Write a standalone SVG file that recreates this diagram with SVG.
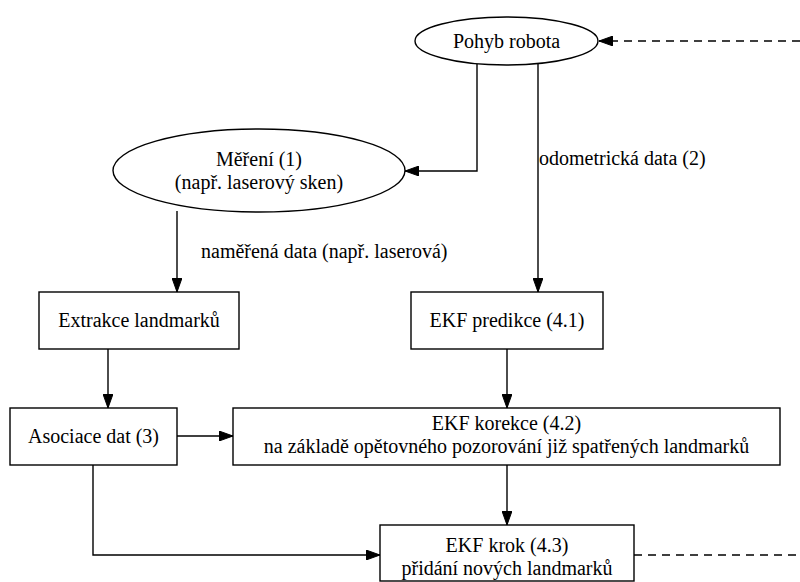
<svg xmlns="http://www.w3.org/2000/svg" width="800" height="582" viewBox="0 0 800 582">
<style>
text{font-size:20px;fill:#000}
.n{fill:#fff;stroke:#000;stroke-width:1.4}
.e{fill:none;stroke:#000;stroke-width:1.4}
.d{stroke-dasharray:8,6}
.c{text-anchor:middle}
</style>
<defs>
<marker id="ah" markerWidth="14" markerHeight="10" refX="14" refY="5" orient="auto" markerUnits="userSpaceOnUse">
<path d="M0,0 L14,5 L0,10 Z" fill="#000" stroke="#000" stroke-width="1"/>
</marker>
</defs>
<rect width="800" height="582" fill="#fff"/>
<g font-family="Liberation Serif, Tinos, DejaVu Serif, Noto Serif, Times New Roman, serif">
<g id="edges">
<path class="e d" d="M800,41 L599,41" marker-end="url(#ah)"/>
<path class="e" d="M477,64 L477,171 L405,171" marker-end="url(#ah)"/>
<path class="e" d="M538,64 L538,292" marker-end="url(#ah)"/>
<text x="539" y="165">odometrická data (2)</text>
<path class="e" d="M177,211 L177,292" marker-end="url(#ah)"/>
<text x="201" y="258">naměřená data (např. laserová)</text>
<path class="e" d="M108,349 L108,408" marker-end="url(#ah)"/>
<path class="e" d="M507,349 L507,408" marker-end="url(#ah)"/>
<path class="e" d="M177,436 L233,436" marker-end="url(#ah)"/>
<path class="e" d="M507,465 L507,525" marker-end="url(#ah)"/>
<path class="e" d="M93,465 L93,555 L380,555" marker-end="url(#ah)"/>
<path class="e d" d="M634,555 L800,555"/>
</g>
<g id="pohyb">
<ellipse class="n" cx="506.5" cy="41" rx="91.5" ry="24"/>
<text class="c" x="506.5" y="48">Pohyb robota</text>
</g>
<g id="mereni">
<ellipse class="n" cx="259" cy="170.5" rx="146" ry="41.5"/>
<text class="c" x="259" y="166">Měření (1)</text>
<text class="c" x="259" y="189">(např. laserový sken)</text>
</g>
<g id="extrakce">
<rect class="n" x="39" y="292" width="200" height="57"/>
<text class="c" x="139" y="327">Extrakce landmarků</text>
</g>
<g id="predikce">
<rect class="n" x="411" y="292" width="192" height="57"/>
<text class="c" x="507" y="327">EKF predikce (4.1)</text>
</g>
<g id="asociace">
<rect class="n" x="10" y="408" width="167" height="57"/>
<text class="c" x="93.5" y="443">Asociace dat (3)</text>
</g>
<g id="korekce">
<rect class="n" x="233" y="408" width="547" height="57"/>
<text class="c" x="506.5" y="430">EKF korekce (4.2)</text>
<text class="c" x="506.5" y="453">na základě opětovného pozorování již spatřených landmarků</text>
</g>
<g id="krok">
<rect class="n" x="380" y="525" width="254" height="56"/>
<text class="c" x="507" y="552">EKF krok (4.3)</text>
<text class="c" x="507" y="575">přidání nových landmarků</text>
</g>
</g>
</svg>
